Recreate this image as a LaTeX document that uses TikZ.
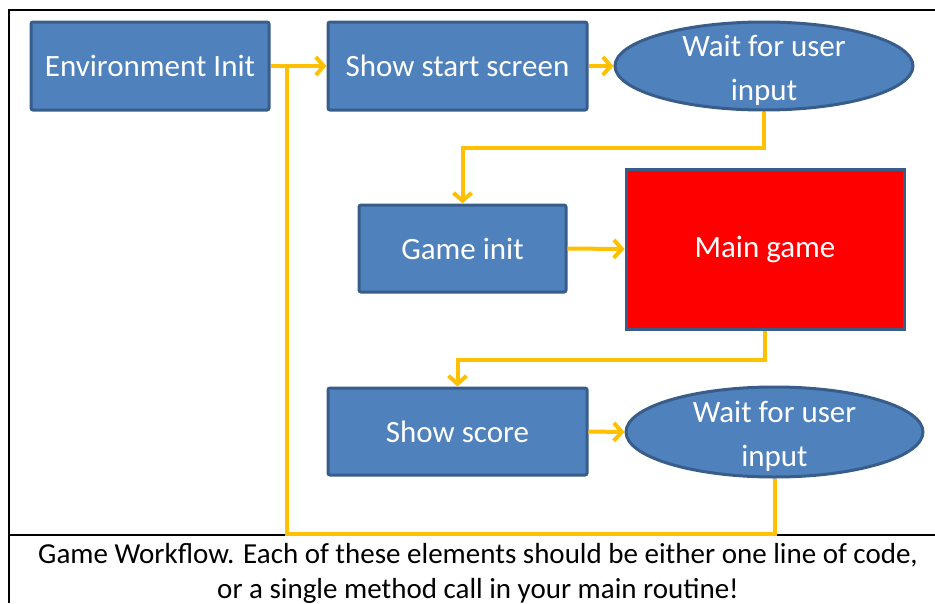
\documentclass[tikz,border=0pt]{standalone}
\usepackage{fontspec}
\setmainfont{Carlito}
\usetikzlibrary{arrows.meta,shapes.geometric}
\definecolor{boxblue}{HTML}{4F81BD}
\definecolor{boxline}{HTML}{385D8A}
\definecolor{flow}{HTML}{FFC000}
\tikzset{
  stepbox/.style={rectangle, fill=boxblue, draw=boxline, line width=3pt,
    rounded corners=2pt, text=white, inner sep=0pt,
    font=\fontsize{31}{37}\selectfont},
  waitbox/.style={ellipse, fill=boxblue, draw=boxline, line width=3pt,
    inner sep=0pt},
  waittext/.style={text=white, align=center,
    font=\fontsize{31}{44}\selectfont},
  flowline/.style={draw=flow, line width=4pt},
  flowarrow/.style={flowline, -{Straight Barb[length=8pt,width=18pt,line width=4pt]}},
}
\begin{document}
\begin{tikzpicture}[x=1pt,y=-1pt]
\useasboundingbox (0,0) rectangle (935,603);

% outer frame and caption rule
\draw[line width=2.5pt] (935,10) -- (9,10) -- (9,603);
\draw[line width=2pt] (9,535) -- (935,535);

% steps
\node[stepbox, minimum width=238pt, minimum height=88pt] (env) at (150,66) {Environment Init};
\node[stepbox, minimum width=259pt, minimum height=88pt] (start) at (457.5,66) {Show start screen};
\node[waitbox, minimum width=298pt, minimum height=88pt] (wait1) at (764,66) {};
\node[waittext] (wait1t) at (764,70) {Wait for user\\input};
\node[stepbox, minimum width=207pt, minimum height=87pt] (ginit) at (462.5,248.5) {Game init};
\node[stepbox, fill=red, rounded corners=0pt, minimum width=278pt, minimum height=160pt] (main) at (765,249) {Main game};
\node[stepbox, minimum width=259pt, minimum height=87pt] (score) at (457.5,431.5) {Show score};
\node[waitbox, minimum width=297pt, minimum height=90pt] (wait2) at (774.5,432) {};
\node[waittext] (wait2t) at (774.5,436) {Wait for user\\input};

% flow
\coordinate (br) at (287,66);
\draw[flowarrow] (env.east) -- (start.west);
\draw[flowline] (wait2.south) -- ++(0,55) -| (br);
\draw[flowarrow] (start.east) -- (wait1.west);
\draw[flowarrow] (wait1.south) -- ++(0,36) -| (ginit.north);
\draw[flowarrow] (ginit.east) -- (main.west);
\draw[flowarrow] (main.south) -- ++(0,29) -| (score.north);
\draw[flowarrow] (score.east) -- (wait2.west);

% caption
\node[align=center, font=\fontsize{29}{35}\selectfont] (cap) at (478,573)
  {Game Workflow. Each of these elements should be either one line of code,\\
   or a single method call in your main routine!};
\end{tikzpicture}
\end{document}
